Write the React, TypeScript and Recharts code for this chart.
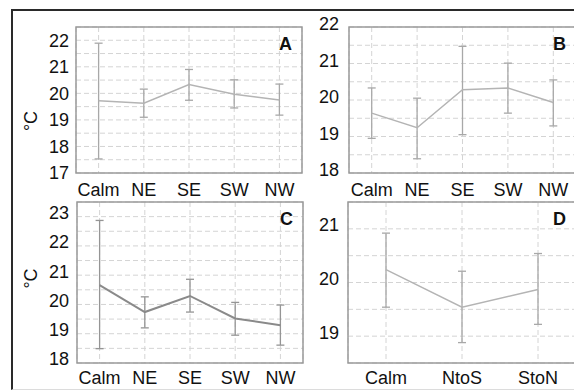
import React from 'react';
import { LineChart, Line, XAxis, YAxis, CartesianGrid, ErrorBar, ReferenceArea } from 'recharts';

// wind direction categories (panels A-C) and flow categories (panel D)
const directions = ['Calm', 'NE', 'SE', 'SW', 'NW'];
const flows = ['Calm', 'NtoS', 'StoN'];

// panel A
const aMean = [19.72, 19.63, 20.33, 19.97, 19.75];
const aLow = [17.53, 19.1, 19.74, 19.45, 19.18];
const aHigh = [21.89, 20.16, 20.9, 20.51, 20.35];
const aTicks = [17, 17.5, 18, 18.5, 19, 19.5, 20, 20.5, 21, 21.5, 22, 22.5];

// panel B
const bMean = [19.64, 19.24, 20.28, 20.33, 19.93];
const bLow = [18.95, 18.39, 19.05, 19.64, 19.29];
const bHigh = [20.33, 20.05, 21.47, 21.01, 20.55];
const bTicks = [18, 18.5, 19, 19.5, 20, 20.5, 21, 21.5, 22];

// panel C
const cMean = [20.66, 19.74, 20.29, 19.52, 19.29];
const cLow = [18.49, 19.2, 19.74, 18.95, 18.61];
const cHigh = [22.87, 20.26, 20.86, 20.07, 19.98];
const cTicks = [18, 18.5, 19, 19.5, 20, 20.5, 21, 21.5, 22, 22.5, 23, 23.5];

// panel D
const dMean = [20.24, 19.54, 19.87];
const dLow = [19.54, 18.88, 19.22];
const dHigh = [20.92, 20.21, 20.54];
const dTicks = [18.5, 19, 19.5, 20, 20.5, 21, 21.5];

const FONT = '"Liberation Sans", Arial, sans-serif';

function build(cats: string[], mean: number[], low: number[], high: number[]) {
  return cats.map((c, i) => ({
    cat: c,
    mean: mean[i],
    err: [mean[i] - low[i], high[i] - mean[i]],
  }));
}

interface PanelProps {
  data: Array<{ cat: string; mean: number; err: number[] }>;
  ticks: number[];
  letter: string;
  left: number;
  top: number;
  width: number;
  height: number;
  marginTop: number;
  marginRight: number;
  yWidth: number;
  xHeight: number;
  yTickMargin: number;
  xTickMargin: number;
  yTickDy: number;
  lineColor: string;
  lineWidth: number;
  errColor: string;
  unitDy?: number;
}

function Panel(p: PanelProps) {
  const lo = p.ticks[0];
  const hi = p.ticks[p.ticks.length - 1];
  return (
    <div style={{ position: 'absolute', left: p.left, top: p.top }}>
      <LineChart
        width={p.width}
        height={p.height}
        data={p.data}
        margin={{ top: p.marginTop, right: p.marginRight, left: 0, bottom: 0 }}
      >
        <CartesianGrid stroke="#d4d4d4" strokeDasharray="5 3" strokeWidth={1} />
        <XAxis
          dataKey="cat"
          scale="band"
          height={p.xHeight}
          axisLine={false}
          tickLine={false}
          tickMargin={p.xTickMargin}
          interval={0}
          tick={{ fill: '#111', fontSize: 18, fontFamily: FONT }}
        />
        <YAxis
          width={p.yWidth}
          domain={[lo, hi]}
          ticks={p.ticks}
          interval={0}
          allowDataOverflow
          axisLine={false}
          tickLine={false}
          tickMargin={p.yTickMargin}
          tickFormatter={(v: number) => (Number.isInteger(v) ? String(v) : '')}
          tick={{ fill: '#111', fontSize: 18, fontFamily: FONT, dy: p.yTickDy }}
          label={
            p.unitDy !== undefined
              ? {
                  content: ({ viewBox }: any) => {
                    const cx = viewBox.x + 31;
                    const cy = viewBox.y + viewBox.height / 2 + (p.unitDy as number);
                    return (
                      <text
                        x={cx}
                        y={cy}
                        transform={`rotate(-90 ${cx} ${cy})`}
                        textAnchor="middle"
                        dominantBaseline="central"
                        fontSize={18}
                        fontFamily={FONT}
                        fill="#111"
                      >
                        °C
                      </text>
                    );
                  },
                }
              : undefined
          }
        />
        <ReferenceArea
          y1={lo}
          y2={hi}
          fill="none"
          stroke="#9a9a9a"
          strokeWidth={1.5}
          ifOverflow="visible"
          label={{
            value: p.letter,
            position: 'insideTopRight',
            offset: 10,
            fontSize: 18,
            fontWeight: 'bold',
            fontFamily: FONT,
            fill: '#111',
          }}
        />
        <Line
          type="linear"
          dataKey="mean"
          stroke={p.lineColor}
          strokeWidth={p.lineWidth}
          dot={false}
          activeDot={false}
          isAnimationActive={false}
        >
          <ErrorBar dataKey="err" direction="y" width={4} stroke={p.errColor} strokeWidth={1.3} isAnimationActive={false} />
        </Line>
      </LineChart>
    </div>
  );
}

export default function App() {
  return (
    <div
      style={{
        position: 'fixed',
        left: 0,
        top: 0,
        width: 574,
        height: 391,
        overflow: 'hidden',
        background: '#fff',
      }}
    >
      <div
        style={{
          position: 'absolute',
          left: 11,
          top: 9,
          width: 620,
          height: 378,
          borderTop: '2px solid #2a2a2a',
          borderLeft: '2px solid #2a2a2a',
          borderBottom: '1px solid #dcdcdc',
        }}
      />
      <Panel
        data={build(directions, aMean, aLow, aHigh)}
        ticks={aTicks}
        letter="A"
        left={0}
        top={0}
        width={310}
        height={200}
        marginTop={27}
        marginRight={8}
        yWidth={76}
        xHeight={27}
        yTickMargin={1}
        xTickMargin={4}
        yTickDy={0}
        lineColor="#b4b4b4"
        lineWidth={1.5}
        errColor="#a8a8a8"
        unitDy={21}
      />
      <Panel
        data={build(directions, bMean, bLow, bHigh)}
        ticks={bTicks}
        letter="B"
        left={290}
        top={0}
        width={300}
        height={200}
        marginTop={27}
        marginRight={14}
        yWidth={59}
        xHeight={27}
        yTickMargin={4}
        xTickMargin={4}
        yTickDy={-3}
        lineColor="#b4b4b4"
        lineWidth={1.5}
        errColor="#a8a8a8"
      />
      <Panel
        data={build(directions, cMean, cLow, cHigh)}
        ticks={cTicks}
        letter="C"
        left={0}
        top={175}
        width={311}
        height={214}
        marginTop={27}
        marginRight={8}
        yWidth={77}
        xHeight={26}
        yTickMargin={2}
        xTickMargin={2}
        yTickDy={-4}
        lineColor="#8a8a8a"
        lineWidth={2}
        errColor="#959595"
        unitDy={-4}
      />
      <Panel
        data={build(flows, dMean, dLow, dHigh)}
        ticks={dTicks}
        letter="D"
        left={290}
        top={175}
        width={300}
        height={214}
        marginTop={27}
        marginRight={14}
        yWidth={58}
        xHeight={26}
        yTickMargin={3}
        xTickMargin={2}
        yTickDy={-4}
        lineColor="#b4b4b4"
        lineWidth={1.5}
        errColor="#a8a8a8"
      />
    </div>
  );
}
